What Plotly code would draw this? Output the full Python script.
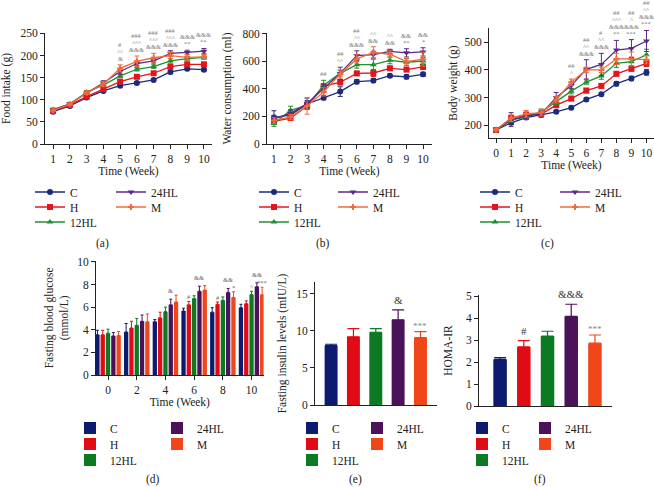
import plotly.graph_objects as go

W, H = 654, 487
FONT = "Liberation Serif"

groups = ["C", "H", "12HL", "24HL", "M"]
line_colors = {"C": "#1c2a7c", "H": "#e3141c", "12HL": "#1f8f2f", "24HL": "#5c2a80", "M": "#f26a3c"}
bar_colors = {"C": "#0d1b6e", "H": "#e00b14", "12HL": "#0b7a22", "24HL": "#4a1258", "M": "#f0461a"}
symbols = {"C": "circle", "H": "square", "12HL": "triangle-up", "24HL": "triangle-down", "M": "cross"}

# (a) Food intake (g)
weeks_a = [1, 2, 3, 4, 5, 6, 7, 8, 9, 10]
food = {
    "C": [73, 86, 105, 120, 132, 138, 145, 163, 170, 168],
    "H": [75, 88, 107, 124, 141, 152, 160, 175, 180, 180],
    "12HL": [78, 90, 117, 133, 154, 169, 175, 188, 193, 196],
    "24HL": [77, 91, 115, 138, 164, 182, 188, 205, 207, 210],
    "M": [76, 90, 116, 135, 171, 187, 195, 200, 196, 197],
}
food_err = {
    "C": [3, 2, 3, 3, 3, 3, 3, 4, 4, 3],
    "H": [3, 3, 3, 4, 4, 4, 4, 5, 5, 5],
    "12HL": [3, 3, 4, 4, 4, 4, 4, 5, 5, 5],
    "24HL": [3, 3, 4, 5, 6, 5, 5, 6, 5, 6],
    "M": [3, 3, 4, 5, 8, 12, 10, 7, 6, 6],
}
sig_food = {5: ["&", "^^", "#"], 6: ["&&&", "^^^", "###"], 7: ["&&&", "^^^", "###"],
            8: ["&&&", "^^^", "###"], 9: ["**", "&&&"], 10: ["**", "&&&"]}

# (b) Water consumption (ml)
weeks_b = [1, 2, 3, 4, 5, 6, 7, 8, 9, 10]
water = {
    "C": [193, 210, 290, 335, 380, 452, 460, 495, 487, 505],
    "H": [165, 188, 275, 418, 448, 512, 515, 549, 540, 560],
    "12HL": [148, 244, 280, 427, 512, 575, 575, 607, 593, 602],
    "24HL": [183, 222, 293, 405, 512, 641, 648, 672, 661, 668],
    "M": [171, 195, 276, 378, 508, 617, 665, 651, 598, 615],
}
water_err = {
    "C": [48, 20, 25, 15, 35, 15, 15, 12, 15, 15],
    "H": [20, 15, 20, 20, 20, 15, 25, 15, 15, 20],
    "12HL": [20, 30, 25, 35, 20, 25, 40, 25, 25, 25],
    "24HL": [25, 25, 40, 25, 45, 35, 25, 15, 30, 30],
    "M": [20, 20, 60, 30, 30, 30, 40, 25, 25, 50],
}
sig_water = {4: ["##"], 5: ["^^", "##"], 6: ["&&&", "^^", "##"], 7: ["&&", "^^"],
             8: ["&&", "^^"], 9: ["**", "&&"], 10: ["*", "&&"]}

# (c) Body weight (g)
weeks_c = [0, 1, 2, 3, 4, 5, 6, 7, 8, 9, 10]
bw = {
    "C": [182, 208, 227, 237, 248, 263, 293, 312, 350, 369, 391],
    "H": [182, 225, 236, 240, 272, 296, 325, 342, 386, 404, 424],
    "12HL": [180, 218, 230, 248, 285, 323, 356, 378, 424, 430, 455],
    "24HL": [182, 220, 232, 240, 300, 343, 402, 420, 472, 478, 505],
    "M": [183, 225, 240, 245, 292, 355, 400, 400, 440, 440, 437],
}
bw_err = {
    "C": [4, 6, 5, 5, 5, 5, 5, 6, 8, 8, 10],
    "H": [5, 10, 15, 10, 8, 8, 8, 8, 8, 8, 12],
    "12HL": [4, 8, 8, 10, 10, 10, 8, 12, 15, 15, 20],
    "24HL": [5, 25, 10, 12, 18, 12, 35, 40, 35, 32, 38],
    "M": [5, 12, 12, 12, 12, 12, 10, 10, 20, 25, 15],
}
sig_bw = {5: ["^", "##"], 6: ["&&&", "^^", "##"], 7: ["&&&", "^^", "#"],
          8: ["**", "&&&", "^^^", "##"], 9: ["***", "&&&", "^", "##"], 10: ["***", "&&&", "^^", "##"]}

# (d) Fasting blood glucose (mmol/L)
weeks_d = [0, 2, 4, 6, 8, 10]
glu = {
    "C": [3.55, 3.8, 4.7, 5.65, 5.55, 5.95],
    "H": [3.55, 4.15, 5.05, 6.2, 6.25, 6.3],
    "12HL": [3.7, 4.4, 5.6, 6.75, 6.6, 7.1],
    "24HL": [3.45, 4.75, 6.2, 7.4, 7.3, 7.8],
    "M": [3.5, 4.7, 6.45, 7.5, 6.85, 7.1],
}
glu_err = {
    "C": [0.4, 0.75, 0.2, 0.25, 0.4, 0.3],
    "H": [0.4, 0.6, 0.5, 0.3, 0.2, 0.25],
    "12HL": [0.35, 0.6, 0.4, 0.25, 0.3, 0.3],
    "24HL": [0.3, 0.55, 0.5, 0.45, 0.35, 0.35],
    "M": [0.35, 0.7, 0.6, 0.4, 0.5, 0.65],
}
sig_glu = [(4, "24HL", "&"), (6, "H", "#"), (6, "24HL", "&&"), (8, "H", "#"), (8, "24HL", "&&"),
           (8, "M", "*"), (10, "12HL", "^"), (10, "24HL", "&&"), (10, "M", "***")]

# (e) Fasting insulin levels (mIU/L)
insulin = [8.0, 9.2, 9.8, 11.5, 9.1]
insulin_err = [0.2, 1.1, 0.5, 1.35, 0.8]
sig_ins = {"24HL": "&", "M": "***"}

# (f) HOMA-IR
homa = [2.12, 2.69, 3.18, 4.08, 2.86]
homa_err = [0.08, 0.28, 0.22, 0.55, 0.37]
sig_homa = {"H": "#", "24HL": "&&&", "M": "***"}


def xd(l, r):
    return [l / W, r / W]


def yd(t, b):
    return [1 - b / H, 1 - t / H]


fig = go.Figure()

# legend placement per panel: (text-x col1, text-x col2, row ys)
leg_pos = {
    "a": (70, 151, [192, 207, 222]),
    "b": (294, 373, [192, 207, 222]),
    "c": (515, 595, [192, 207, 222]),
    "d": (110, 197, [428, 444, 460]),
    "e": (332, 397, [428, 444, 460]),
    "f": (502, 565, [428, 444, 460]),
}
cell = {"C": (0, 0), "H": (0, 1), "12HL": (0, 2), "24HL": (1, 0), "M": (1, 1)}
legends = {}
lcount = [0]


def legend_for(panel, g):
    lcount[0] += 1
    name = "legend" if lcount[0] == 1 else f"legend{lcount[0]}"
    c1, c2, rows = leg_pos[panel]
    col, row = cell[g]
    tx = c1 if col == 0 else c2
    legends[name] = dict(
        x=(tx - 40) / W, y=1 - rows[row] / H, xanchor="left", yanchor="middle",
        bgcolor="rgba(0,0,0,0)", font=dict(family=FONT, size=11.5, color="#222"),
        itemclick=False, itemdoubleclick=False,
    )
    return name


def add_lines(panel, xs, data, err, xa, ya):
    for g in groups:
        fig.add_trace(go.Scatter(
            x=xs, y=data[g], name=g, mode="lines+markers",
            line=dict(color=line_colors[g], width=1.3),
            marker=dict(symbol=symbols[g], size=6 if g != "M" else 5, color=line_colors[g],
                        line=dict(width=0)),
            error_y=dict(type="data", array=err[g], color=line_colors[g], thickness=1, width=2.5),
            xaxis=xa, yaxis=ya, legend=legend_for(panel, g), cliponaxis=False,
        ))


add_lines("a", weeks_a, food, food_err, "x", "y")
add_lines("b", weeks_b, water, water_err, "x2", "y2")
add_lines("c", weeks_c, bw, bw_err, "x3", "y3")

# (d) grouped bars
slot = 0.37
bw_d = 0.30
for i, g in enumerate(groups):
    fig.add_trace(go.Bar(
        x=weeks_d, y=glu[g], name=g, width=bw_d, offset=(i - 2) * slot - bw_d / 2,
        marker=dict(color=bar_colors[g], line=dict(width=0)),
        error_y=dict(type="data", array=glu_err[g], arrayminus=[0] * len(weeks_d), symmetric=False,
                     color=bar_colors[g], thickness=1, width=1.5),
        xaxis="x4", yaxis="y4", legend=legend_for("d", g),
    ))

# (e), (f) single bars
for vals, errs, xa, ya, panel, wbar in [(insulin, insulin_err, "x5", "y5", "e", 0.58),
                                        (homa, homa_err, "x6", "y6", "f", 0.57)]:
    for i, g in enumerate(groups):
        fig.add_trace(go.Bar(
            x=[i], y=[vals[i]], name=g, width=wbar,
            marker=dict(color=bar_colors[g], line=dict(width=0)),
            error_y=dict(type="data", array=[errs[i]], arrayminus=[0], symmetric=False,
                         color=bar_colors[g], thickness=1.2, width=6),
            xaxis=xa, yaxis=ya, legend=legend_for(panel, g),
        ))

annotations = []


def sig_stack(sig, data, err, xs, xref, yref):
    for wk, labels in sig.items():
        idx = xs.index(wk)
        top = max(data[g][idx] + err[g][idx] for g in groups)
        for k, lab in enumerate(labels):
            annotations.append(dict(
                x=wk, y=top, xref=xref, yref=yref, text=lab, showarrow=False,
                yanchor="middle", yshift=6.5 + k * 7.0, borderpad=0,
                font=dict(family=FONT, size=6.5, color="#808080"),
            ))


sig_stack(sig_food, food, food_err, weeks_a, "x", "y")
sig_stack(sig_water, water, water_err, weeks_b, "x2", "y2")
sig_stack(sig_bw, bw, bw_err, weeks_c, "x3", "y3")

for wk, g, lab in sig_glu:
    idx = weeks_d.index(wk)
    gi = groups.index(g)
    annotations.append(dict(
        x=wk + (gi - 2) * slot, y=glu[g][idx] + glu_err[g][idx], xref="x4", yref="y4",
        text=lab, showarrow=False, yanchor="bottom", yshift=4 if lab.startswith("&") else 0,
        borderpad=0, font=dict(family=FONT, size=6.5, color="#666"),
    ))

for g, lab in sig_ins.items():
    i = groups.index(g)
    annotations.append(dict(
        x=i, y=insulin[i] + insulin_err[i], xref="x5", yref="y5", text=lab, showarrow=False,
        yanchor="bottom", yshift=2 if lab == "&" else -1,
        font=dict(family=FONT, size=11 if lab == "&" else 9, color="#333" if lab == "&" else "#888"),
    ))
for g, lab in sig_homa.items():
    i = groups.index(g)
    annotations.append(dict(
        x=i, y=homa[i] + homa_err[i], xref="x6", yref="y6", text=lab, showarrow=False,
        yanchor="bottom", yshift=2 if lab != "***" else -1,
        font=dict(family=FONT, size=11 if lab != "***" else 9, color="#333" if lab != "***" else "#888"),
    ))

for lab, px, py in [("(a)", 102, 243), ("(b)", 323, 243), ("(c)", 547, 243),
                    ("(d)", 153, 479), ("(e)", 355, 479), ("(f)", 540, 479)]:
    annotations.append(dict(x=px / W, y=1 - py / H, xref="paper", yref="paper", text=lab,
                            showarrow=False, xanchor="center", yanchor="middle",
                            font=dict(family=FONT, size=11.5, color="#222")))

axis_common = dict(showline=True, linecolor="#222", linewidth=1, ticks="outside", ticklen=4,
                   tickcolor="#222", tickwidth=1, showgrid=False, zeroline=False, automargin=False,
                   tickfont=dict(family=FONT, size=11.5, color="#222"))
title_font = dict(family=FONT, size=11.5, color="#222")


def xt(text, standoff=3):
    return dict(text=text, font=title_font, standoff=standoff)


layout = dict(
    width=W, height=H, margin=dict(l=0, r=0, t=0, b=0, autoexpand=False),
    paper_bgcolor="white", plot_bgcolor="white",
    barmode="overlay", annotations=annotations, showlegend=True,
    xaxis=dict(domain=xd(45, 212), range=[0.52, 10.48], tickvals=weeks_a, title=xt("Time (Week)"),
               anchor="y", **axis_common),
    yaxis=dict(domain=yd(33, 144), range=[0, 251], tickvals=[0, 50, 100, 150, 200, 250],
               title=xt("Food intake (g)", 7), anchor="x", **axis_common),
    xaxis2=dict(domain=xd(267, 432), range=[0.58, 10.54], tickvals=weeks_b, title=xt("Time (Week)"),
                anchor="y2", **axis_common),
    yaxis2=dict(domain=yd(33, 144), range=[0, 805], tickvals=[0, 200, 400, 600, 800],
                title=xt("Water consumption (ml)", 8), anchor="x2", **axis_common),
    xaxis3=dict(domain=xd(489, 654), range=[-0.47, 10.5], tickvals=weeks_c, title=xt("Time (Week)"),
                anchor="y3", **axis_common),
    yaxis3=dict(domain=yd(28.3, 137.7), range=[154, 551], tickvals=[200, 300, 400, 500],
                title=xt("Body weight (g)", 4), anchor="x3", **axis_common),
    xaxis4=dict(domain=xd(96, 263.6), range=[-0.84, 10.84], tickvals=weeks_d, title=xt("Time (Week)"),
                anchor="y4", **axis_common),
    yaxis4=dict(domain=yd(260.7, 375), range=[0, 10.1], tickvals=[0, 2, 4, 6, 8, 10],
                title=xt("Fasting blood glucose<br>(mmol/L)", 6), anchor="x4", **axis_common),
    xaxis5=dict(domain=xd(315, 437), range=[-0.72, 4.74], showticklabels=False,
                anchor="y5", **{**axis_common, "ticks": ""}),
    yaxis5=dict(domain=yd(282, 405), range=[0, 16.6], tickvals=[0, 5, 10, 15],
                title=xt("Fasting insulin levels (mIU/L)", 7), anchor="x5", **axis_common),
    xaxis6=dict(domain=xd(479, 612), range=[-0.89, 4.72], showticklabels=False,
                anchor="y6", **{**axis_common, "ticks": ""}),
    yaxis6=dict(domain=yd(295, 406), range=[0, 5.05], tickvals=[0, 1, 2, 3, 4, 5],
                title=xt("HOMA-IR", 10), anchor="x6", **axis_common),
)
layout.update(legends)
fig.update_layout(**layout)

fig.write_html("out.html", config={"displayModeBar": False},
               post_script="document.body.style.margin='0';document.body.style.overflow='hidden';")
